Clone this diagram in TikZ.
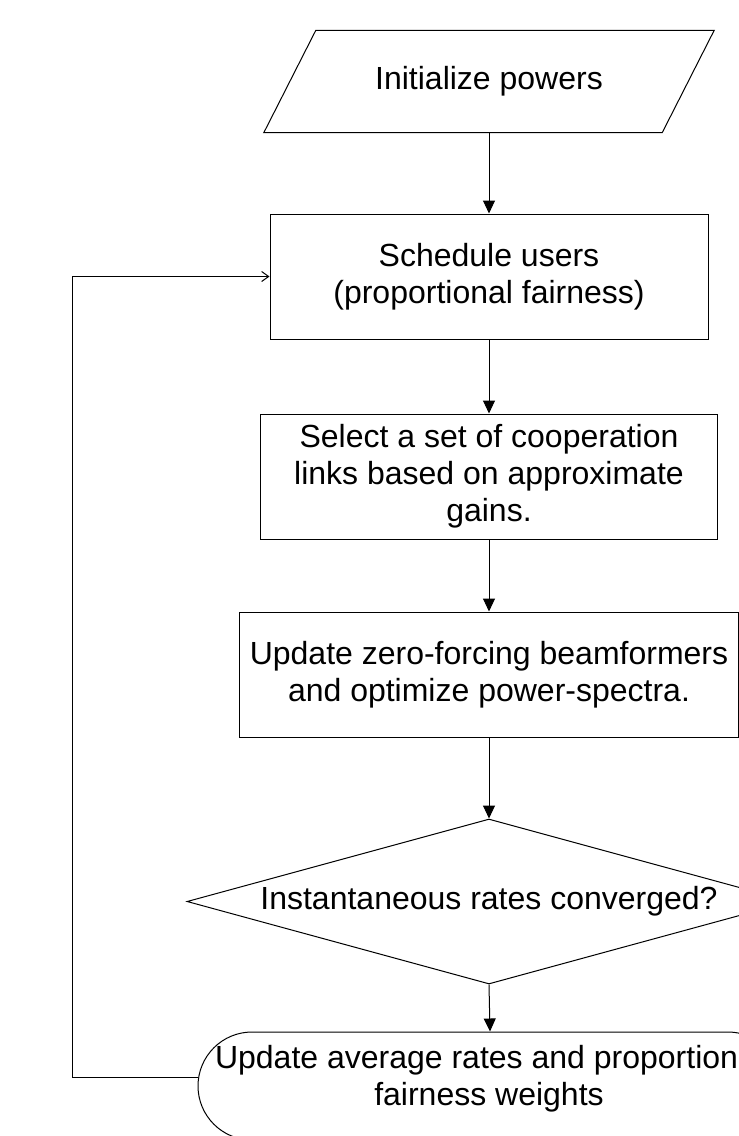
\documentclass[tikz,border=0pt]{standalone}
\usepackage{fontspec}
\setmainfont{Liberation Sans}
\usetikzlibrary{arrows.meta,shapes.geometric,shapes.misc}
\begin{document}
\begin{tikzpicture}[x=1pt,y=-1pt,
  every node/.style={font=\fontsize{32}{37}\selectfont, align=center},
  line/.style={line width=1pt, draw=black},
  proc/.style={rectangle, line, minimum height=125pt, inner sep=0pt},
  flow/.style={line width=1pt, -{Triangle[length=13pt,width=12pt]}},
  back/.style={line width=1pt, -{Straight Barb[length=7pt,width=10pt]}}
]
\useasboundingbox (0,0) rectangle (739,1136);
\clip (0,0) rectangle (739,1136);
% input parallelogram
\node[minimum width=398pt, minimum height=102pt, inner sep=0pt] (init) at (489,81.5) {Initialize powers};
\draw[line] ([xshift=-26pt]init.south west) -- ([xshift=-26pt]init.south east)
  -- ([xshift=26pt]init.north east) -- ([xshift=26pt]init.north west) -- cycle;
% process boxes
\node[proc, minimum width=438pt] (sched) at (489,276.5) {Schedule users\\(proportional fairness)};
\node[proc, minimum width=457pt] (sel) at (489,476.5) {Select a set of cooperation\\links based on approximate\\gains.};
\node[proc, minimum width=499pt] (upzf) at (489,674.5) {Update zero-forcing beamformers\\and optimize power-spectra.};
% decision
\node[diamond, line, aspect=3.66, minimum width=604pt, minimum height=165pt, inner sep=0pt] (conv) at (489,901.5) {Instantaneous rates converged?};
% terminator
\node[rounded rectangle, rounded rectangle arc length=180, line, minimum width=584pt, minimum height=108pt, inner sep=0pt] (upd) at (490,1086) {};
\node (updtext) at (489,1078.5) {Update average rates and proportional\\fairness weights};
% connectors
\draw[flow] (init.south) -- (sched.north);
\draw[flow] (sched.south) -- (sel.north);
\draw[flow] (sel.south) -- (upzf.north);
\draw[flow] (upzf.south) -- (conv.north);
\draw[flow] (conv.south) -- (upd.north);
\coordinate (lp) at (72,276.5);
\draw[back] ([yshift=9pt]upd.west) -| (lp) -- (sched.west);
\end{tikzpicture}
\end{document}
